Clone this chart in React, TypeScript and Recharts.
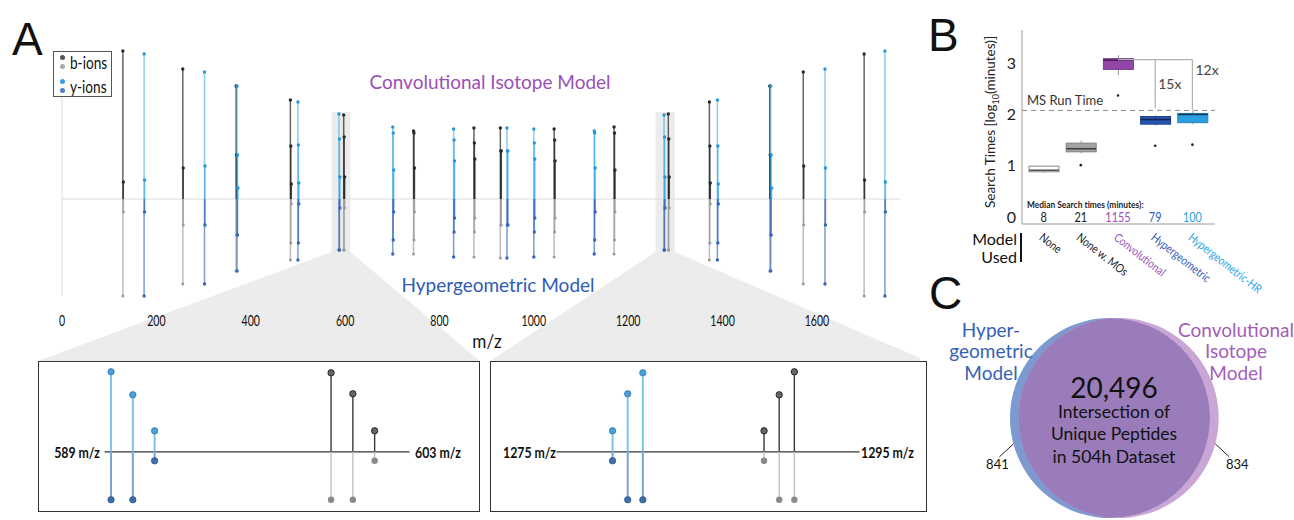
import React from "react";
import {
  Bar,
  ComposedChart,
  Pie,
  PieChart,
  ReferenceArea,
  ReferenceDot,
  ReferenceLine,
  Scatter,
  XAxis,
  YAxis,
} from "recharts";

const SANS = "Lato, 'Open Sans', 'DejaVu Sans', sans-serif";
const ARIAL = "'Liberation Sans', Arial, sans-serif";

// ---------- Panel A: fragment ion stems (above = convolutional, below = hypergeometric)
const mzTicks = [0, 200, 400, 600, 800, 1000, 1200, 1400, 1600];
const ionTypes = ["b", "y", "b", "y", "b", "y", "b", "y", "y", "b", "y", "b", "y", "b", "b", "y", "y", "b", "y", "b", "y", "b", "b", "y", "b", "y", "b", "y", "b", "y"];
const ionMz = [129, 174, 256, 302, 369, 371, 484, 500, 587, 597, 701, 745, 830, 873, 929, 943, 1000, 1043, 1128, 1170, 1276, 1285, 1372, 1389, 1500, 1502, 1571, 1617, 1700, 1744];
const convIntensity = [
  [148, 17], [145, 19], [130, 31], [127, 33], [113, 44], [113, 44, 11], [99, 53, 15], [97, 54, 16],
  [85, 60, 22], [84, 62, 22], [72, 66, 29], [68, 66, 31], [70, 59, 38], [71, 56, 40], [71, 48, 48],
  [71, 48, 48], [70, 56, 40], [70, 59, 38], [68, 66, 31], [72, 66, 29], [84, 62, 22], [85, 60, 22],
  [97, 53, 16], [99, 53, 15], [113, 44], [113, 44, 11], [127, 33], [130, 31], [145, 19], [148, 17],
];
const hyperIntensity = [
  [-97, -13], [-97, -13], [-85, -26], [-85, -26], [-72, -36], [-72, -36], [-61, -44, -5], [-61, -44, -5],
  [-51, -51, -9], [-51, -51, -9], [-55, -41, -13], [-55, -41, -13], [-58, -33, -19], [-58, -33, -19],
  [-59, -26, -26], [-59, -26, -26], [-58, -33, -19], [-58, -33, -19], [-55, -41, -13], [-55, -41, -13],
  [-51, -51, -9], [-51, -51, -9], [-61, -44, -5], [-61, -44, -5], [-72, -36], [-72, -36], [-85, -26],
  [-85, -26], [-97, -13], [-97, -13],
];
const ISO_STEP = 1;
const zoomWindows = [[571, 611], [1258, 1299]];

// ---------- zoom insets
const insetRanges = [[589, 603], [1275, 1295]];
const insetYMz = [[589.3, 590.3, 591.3], [1278.7, 1279.7, 1280.7]];
const insetYConv = [[80, 57, 21], [21, 58, 79]];
const insetYHyper = [[-48, -48, -9], [-9, -48, -48]];
const insetBMz = [[599.4, 600.4, 601.4], [1288.7, 1289.7, 1290.7]];
const insetBConv = [[79, 58, 21], [21, 57, 80]];
const insetBHyper = [[-48, -48, -9], [-9, -48, -48]];

// ---------- Panel B: search times
const models = ["None", "None w. MOs", "Convolutional", "Hypergeometric", "Hypergeometric-HR"];
const boxMin = [0.86, 1.24, 2.77, 1.78, 1.81];
const boxQ1 = [0.88, 1.27, 2.88, 1.81, 1.84];
const boxMedian = [0.91, 1.33, 3.06, 1.9, 2.0];
const boxQ3 = [0.99, 1.44, 3.09, 1.96, 2.02];
const boxMax = [1.0, 1.49, 3.16, 1.99, 2.07];
const boxOutlier = [null, 1.01, 2.37, 1.39, 1.41];
const medianMinutes = [8, 21, 1155, 79, 100];
const msRunTimeMinutes = 120;
const modelColors = ["#1a1a1a", "#1a1a1a", "#9b4fb8", "#2f5bb8", "#2aa3e6"];
const boxFills = ["#ffffff", "#a3a3a3", "#9247a8", "#2754b0", "#2b9fe0"];
const boxStrokes = ["#8a8a8a", "#808080", "#7b3d90", "#1e4190", "#2383bd"];
const medianStrokes = ["#555", "#444", "#4a1e5a", "#14264f", "#123e62"];

// ---------- Panel C: overlap
const vennNames = ["Hypergeometric Model", "Convolutional Isotope Model"];
const sharedPeptides = 20496;
const uniquePeptides = [841, 834];

// layout
const leftInset = { left: 38, top: 361, width: 442, height: 151 };
const rightInset = { left: 490, top: 361, width: 437, height: 151 };

function Txt({ x, y, children, size, color = "#111", anchor = "middle", weight = 400, family = SANS, sx = 1, lh = 1 }: any) {
  const tx = anchor === "middle" ? "-50%" : anchor === "end" ? "-100%" : "0";
  const origin = anchor === "middle" ? "center" : anchor === "end" ? "right" : "left";
  return (
    <div
      style={{
        position: "absolute",
        left: x,
        top: y,
        transform: `translate(${tx}, -50%) scaleX(${sx})`,
        transformOrigin: `${origin} center`,
        fontSize: size,
        color,
        fontWeight: weight,
        fontFamily: family,
        whiteSpace: "nowrap",
        lineHeight: lh,
        textAlign: anchor === "middle" ? "center" : anchor === "end" ? "right" : "left",
      }}
    >
      {children}
    </div>
  );
}

const tipDot = (fill: string, r: number, stroke = "none") => (p: any) =>
  p.payload.v === 0 || p.cy == null ? <g /> : <circle cx={p.cx} cy={p.cy} r={r} fill={fill} stroke={stroke} strokeWidth={0.8} />;

function mainStyle(type: string, v: number) {
  if (type === "b") return v > 0 ? { line: "#1a1a1a", op: 0.68, dot: "#2a2a2a", r: 1.7 } : { line: "#8f8f8f", op: 0.6, dot: "#9a9a9a", r: 1.5 };
  return v > 0 ? { line: "#1c9ce6", op: 0.5, dot: "#2596dc", r: 1.7 } : { line: "#2a5fb8", op: 0.62, dot: "#3467bd", r: 1.7 };
}

function MzTick({ x, y, payload }: any) {
  return (
    <text x={x} y={y} dy={12} textAnchor="middle" fontSize={16} fontFamily={SANS} fill="#111"
      transform={`translate(${x} 0) scale(0.66 1) translate(${-x} 0)`}>
      {payload.value}
    </text>
  );
}

const coneShape = (box: typeof leftInset) => (p: any) => {
  const { x, y, width, height } = p;
  const b = y + height;
  return (
    <g>
      <polygon points={`${x},${b} ${x + width},${b} ${box.left + box.width},${box.top} ${box.left},${box.top}`} fill="#ececec" />
      <rect x={x} y={y} width={width} height={height} fill="#ececec" />
    </g>
  );
};

function SpectrumPanel() {
  const stems = ionMz.flatMap((mz, i) => [
    ...convIntensity[i].map((v, k) => ({ id: `c${i}-${k}`, type: ionTypes[i], mz: mz + k * ISO_STEP, v })),
    ...hyperIntensity[i].map((v, k) => ({ id: `h${i}-${k}`, type: ionTypes[i], mz: mz + k * ISO_STEP, v })),
  ]);
  return (
    <div style={{ position: "absolute", left: 0, top: 0 }}>
      <ComposedChart width={920} height={362} margin={{ top: 49, right: 20, bottom: 33, left: 62 }}>
        <XAxis type="number" dataKey="mz" domain={[0, 1776]} ticks={mzTicks} allowDataOverflow axisLine={false}
          tickLine={false} tickSize={0} tickMargin={15} height={30} tick={<MzTick />} />
        <YAxis type="number" dataKey="v" domain={[-100, 150]} allowDataOverflow hide />
        <ReferenceArea x1={zoomWindows[0][0]} x2={zoomWindows[0][1]} y1={-53} y2={87} shape={coneShape(leftInset)} />
        <ReferenceArea x1={zoomWindows[1][0]} x2={zoomWindows[1][1]} y1={-53} y2={87} shape={coneShape(rightInset)} />
        <ReferenceLine y={0} stroke="#dcdcdc" strokeWidth={1} />
        <ReferenceLine segment={[{ x: 0, y: -97 }, { x: 0, y: 148 }]} stroke="#dcdcdc" strokeWidth={1} />
        {stems.map((s) => {
          const st = mainStyle(s.type, s.v);
          return (
            <Scatter key={s.id} data={[{ mz: s.mz, v: 0 }, { mz: s.mz, v: s.v }]}
              line={{ stroke: st.line, strokeOpacity: st.op, strokeWidth: 1.5 }} lineType="joint"
              shape={tipDot(st.dot, st.r)} isAnimationActive={false} />
          );
        })}
      </ComposedChart>
    </div>
  );
}

function IsotopeInset({ idx, box, plotLeft, plotRight }: any) {
  const peaks = [
    ...insetYMz[idx].flatMap((mz, k) => [
      { id: `yc${k}`, mz, v: insetYConv[idx][k], line: "#7cc4ee", w: 2, dot: "#4a9fd8", ds: "#2f78b5" },
      { id: `yh${k}`, mz, v: insetYHyper[idx][k], line: "#7ca3d6", w: 2, dot: "#3f6ea9", ds: "#2f5a8f" },
    ]),
    ...insetBMz[idx].flatMap((mz, k) => [
      { id: `bc${k}`, mz, v: insetBConv[idx][k], line: "#3a3a3a", w: 1.4, dot: "#666", ds: "#111" },
      { id: `bh${k}`, mz, v: insetBHyper[idx][k], line: "#c2c2c2", w: 1.4, dot: "#8a8a8a", ds: "none" },
    ]),
  ];
  const ox = box.left + 1.5;
  const cw = box.width - 3;
  return (
    <div style={{ position: "absolute", left: box.left, top: box.top, width: box.width, height: box.height, boxSizing: "border-box", border: "1.5px solid #333", background: "#fff" }}>
      <ComposedChart width={cw} height={box.height - 3}
        margin={{ top: 5.8, bottom: 6.2, left: plotLeft - ox, right: ox + cw - plotRight }}>
        <XAxis type="number" dataKey="mz" domain={insetRanges[idx]} allowDataOverflow hide />
        <YAxis type="number" dataKey="v" domain={[-52, 84]} allowDataOverflow hide />
        <ReferenceLine y={0} stroke="#333" strokeWidth={1.2} />
        {peaks.map((p) => (
          <Scatter key={p.id} data={[{ mz: p.mz, v: 0 }, { mz: p.mz, v: p.v }]}
            line={{ stroke: p.line, strokeWidth: p.w }} lineType="joint"
            shape={tipDot(p.dot, 3.2, p.ds)} isAnimationActive={false} />
        ))}
      </ComposedChart>
    </div>
  );
}

function ModelTick({ x, y, payload }: any) {
  const i = models.indexOf(payload.value);
  const c = modelColors[i];
  return (
    <g>
      <text x={x} y={y - 1.5} textAnchor="middle" fill={c} fontSize={14} fontFamily={SANS}
        transform={`translate(${x} 0) scale(0.78 1) translate(${-x} 0)`}>
        {medianMinutes[i]}
      </text>
      <text transform={`translate(${x - 5},${y + 15}) rotate(38) scale(0.84 1)`} fill={c} fontSize={12} fontFamily={SANS}>
        {payload.value}
      </text>
    </g>
  );
}

function BoxShape(p: any) {
  const { x, y, width, height, payload } = p;
  const i = payload.i;
  const top = Math.min(y, y + height);
  const h = Math.abs(height);
  const ppu = h / (payload.q3 - payload.q1);
  const yOf = (v: number) => top + (payload.q3 - v) * ppu;
  const cx = x + width / 2;
  return (
    <g>
      <line x1={cx} x2={cx} y1={yOf(payload.max)} y2={top} stroke="#9a9a9a" strokeWidth={1} />
      <line x1={cx} x2={cx} y1={top + h} y2={yOf(payload.min)} stroke="#9a9a9a" strokeWidth={1} />
      <rect x={x} y={top} width={width} height={h} fill={boxFills[i]} stroke={boxStrokes[i]} strokeWidth={1} />
      <line x1={x} x2={x + width} y1={yOf(payload.median)} y2={yOf(payload.median)} stroke={medianStrokes[i]} strokeWidth={1.6} />
    </g>
  );
}

const OutlierDot = (p: any) =>
  p.payload.outlier == null || p.cy == null ? <g /> : <circle cx={p.cx} cy={p.cy} r={1.3} fill="#222" />;

function TimingPanel() {
  const data = models.map((name, i) => ({
    name, i, min: boxMin[i], q1: boxQ1[i], median: boxMedian[i], q3: boxQ3[i], max: boxMax[i], outlier: boxOutlier[i],
  }));
  const bracketY = 3.07;
  const lbl = { fill: "#444", fontSize: 14, fontFamily: SANS };
  return (
    <div style={{ position: "absolute", left: 940, top: 0 }}>
      <ComposedChart width={354} height={300} data={data} margin={{ top: 30, right: 79, bottom: 16, left: 52 }}>
        <XAxis dataKey="name" type="category" interval={0} height={60} tickSize={0} tickMargin={0}
          axisLine={{ stroke: "#9a9a9a" }} tickLine={false} tick={<ModelTick />} padding={{ left: 3, right: 4 }} />
        <YAxis type="number" domain={[-0.14, 3.65]} ticks={[0, 1, 2, 3]} allowDataOverflow width={30} tickLine={false}
          tickSize={0} tickMargin={6} axisLine={{ stroke: "#9a9a9a" }} tick={{ fontSize: 16, fill: "#222", fontFamily: SANS }} />
        <ReferenceLine y={Math.log10(msRunTimeMinutes)} stroke="#8a8a8a" strokeDasharray="5 4"
          label={{ value: "MS Run Time", position: "insideBottomLeft", offset: 5, fill: "#333", fontSize: 13, fontFamily: SANS }} />
        <ReferenceLine segment={[{ x: "Convolutional", y: bracketY }, { x: "Hypergeometric-HR", y: bracketY }]} stroke="#b0b0b0" strokeWidth={1.2} />
        <ReferenceLine segment={[{ x: "Hypergeometric", y: bracketY }, { x: "Hypergeometric", y: 2.12 }]} stroke="#b0b0b0" strokeWidth={1.2} />
        <ReferenceLine segment={[{ x: "Hypergeometric-HR", y: bracketY }, { x: "Hypergeometric-HR", y: 2.09 }]} stroke="#b0b0b0" strokeWidth={1.2} />
        <Bar dataKey={(d: any) => [d.q1, d.q3]} barSize={30} shape={BoxShape} isAnimationActive={false} />
        <Scatter dataKey="outlier" shape={OutlierDot} isAnimationActive={false} />
        <ReferenceDot x="Hypergeometric" y={2.59} r={0} fill="none" stroke="none" label={{ value: "15x", position: "right", offset: 3, ...lbl }} />
        <ReferenceDot x="Hypergeometric-HR" y={2.86} r={0} fill="none" stroke="none" label={{ value: "12x", position: "right", offset: 3, ...lbl }} />
      </ComposedChart>
    </div>
  );
}

const leader = (count: number, side: number) => (p: any) => {
  const { cx, cy, outerRadius } = p;
  const a = (15 * Math.PI) / 180;
  const x1 = cx + side * outerRadius * Math.cos(a);
  const y1 = cy + outerRadius * Math.sin(a);
  return (
    <g>
      <line x1={x1} y1={y1} x2={x1 + side * 14} y2={y1 + 13} stroke="#222" strokeWidth={1} />
      <text x={x1 + side * (side < 0 ? 16 : 22)} y={y1 + 25} textAnchor="middle" fontSize={13} fontFamily={SANS} fill="#111">{count}</text>
    </g>
  );
};

const VENN_R = 100;
const VENN_SHIFT = 8.7;

function VennPanel() {
  const cx = 150;
  const cy = 120;
  const hyper = [{ name: vennNames[0], value: sharedPeptides + uniquePeptides[0] }];
  const conv = [{ name: vennNames[1], value: sharedPeptides + uniquePeptides[1] }];
  return (
    <div style={{ position: "absolute", left: 960, top: 298 }}>
      <PieChart width={334} height={222} margin={{ top: 0, right: 0, bottom: 0, left: 0 }}>
        <Pie data={hyper} dataKey="value" cx={cx} cy={cy} outerRadius={VENN_R} innerRadius={0} startAngle={90} endAngle={-270}
          fill="#7c99d0" stroke="none" isAnimationActive={false} labelLine={false} label={leader(uniquePeptides[0], -1)} />
        <Pie data={conv} dataKey="value" cx={cx + VENN_SHIFT} cy={cy} outerRadius={VENN_R} innerRadius={0} startAngle={90} endAngle={-270}
          fill="#caa6d6" stroke="none" isAnimationActive={false} labelLine={false} label={leader(uniquePeptides[1], 1)} />
        <Pie data={conv} dataKey="value" cx={cx + VENN_SHIFT} cy={cy} outerRadius={VENN_R} innerRadius={0} startAngle={90} endAngle={-270}
          fill="#9a7cba" stroke="none" isAnimationActive={false} className="venn-overlap" />
      </PieChart>
    </div>
  );
}

export default function App() {
  const clipX = 50 - (VENN_SHIFT / (2 * VENN_R)) * 100;
  return (
    <div style={{ position: "absolute", left: 0, top: 0, width: 1294, height: 520, background: "#fff", overflow: "hidden", fontFamily: SANS }}>
      <style>{`.venn-overlap{clip-path:circle(50% at ${clipX}% 50%);}`}</style>
      <SpectrumPanel />
      <IsotopeInset idx={0} box={leftInset} plotLeft={105} plotRight={410} />
      <IsotopeInset idx={1} box={rightInset} plotLeft={557} plotRight={860} />
      <VennPanel />
      <TimingPanel />

      {/* panel letters */}
      <Txt x={12} y={39} size={46} anchor="start" family={ARIAL}>A</Txt>
      <Txt x={928} y={35} size={46} anchor="start" family={ARIAL}>B</Txt>
      <Txt x={929} y={293} size={46} anchor="start" family={ARIAL}>C</Txt>

      {/* panel A annotations */}
      <div style={{ position: "absolute", left: 53, top: 51, width: 59, height: 46, boxSizing: "border-box", border: "1.5px solid #555", background: "#fff" }} />
      {[["#555", 57], ["#aaa", 66], ["#3c9ee0", 81], ["#4f7fc0", 90]].map(([c, y]) => (
        <div key={String(y)} style={{ position: "absolute", left: 59.5, top: (y as number) - 2.5, width: 5, height: 5, borderRadius: 3, background: c as string }} />
      ))}
      <Txt x={70} y={62} size={17} anchor="start" sx={0.8}>b-ions</Txt>
      <Txt x={70} y={86} size={17} anchor="start" sx={0.8}>y-ions</Txt>
      <Txt x={490} y={81} size={19} color="#9b4fb8">Convolutional Isotope Model</Txt>
      <Txt x={498} y={284} size={19} color="#2f5bb8">Hypergeometric Model</Txt>
      <Txt x={487} y={340} size={19} color="#111" sx={0.9}>m/z</Txt>

      {/* inset labels */}
      <Txt x={100} y={452} size={15} anchor="end" weight={700} sx={0.82}>589 m/z</Txt>
      <Txt x={415} y={452} size={15} anchor="start" weight={700} sx={0.82}>603 m/z</Txt>
      <Txt x={556} y={452} size={15} anchor="end" weight={700} sx={0.82}>1275 m/z</Txt>
      <Txt x={861} y={452} size={15} anchor="start" weight={700} sx={0.82}>1295 m/z</Txt>

      {/* panel B annotations */}
      <div style={{ position: "absolute", left: 890, top: 112, width: 200, height: 20, lineHeight: "20px", textAlign: "center", transform: "rotate(-90deg)", fontSize: 13.5, color: "#222", whiteSpace: "nowrap" }}>
        Search Times [log<sub style={{ fontSize: 9 }}>10</sub>(minutes)]
      </div>
      <Txt x={1027} y={204} size={10} anchor="start" weight={700} sx={0.84} color="#222">Median Search times (minutes):</Txt>
      <Txt x={1017} y={239} size={16} anchor="end">Model</Txt>
      <Txt x={1017} y={257} size={16} anchor="end">Used</Txt>
      <div style={{ position: "absolute", left: 1020, top: 233, width: 1.5, height: 29, background: "#111" }} />

      {/* panel C annotations */}
      <Txt x={991} y={351} size={19} color="#3560b8" lh={1.13}>Hyper-<br />geometric<br />Model</Txt>
      <Txt x={1236} y={351} size={19} color="#a35cb9" lh={1.13}>Convolutional<br />Isotope<br />Model</Txt>
      <Txt x={1114} y={387} size={28}>20,496</Txt>
      <Txt x={1114} y={435} size={17.5} lh={1.28}>Intersection of<br />Unique Peptides<br />in 504h Dataset</Txt>
    </div>
  );
}
